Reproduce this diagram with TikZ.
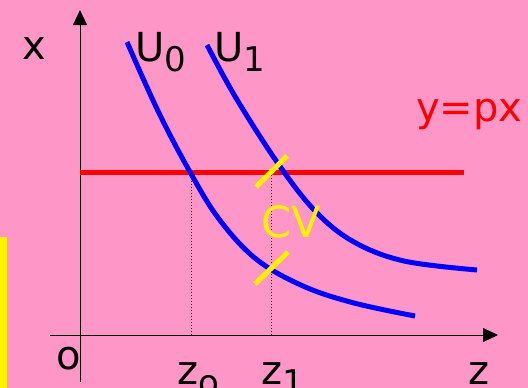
\documentclass[tikz,border=0pt]{standalone}
\usepackage{fontspec}
\setmainfont{DejaVu Sans}
\usetikzlibrary{arrows.meta}
\definecolor{bgpink}{HTML}{FF96C8}
\newcommand\lowsub[1]{\raisebox{-10pt}{\fontsize{34}{40}\selectfont #1}}
\begin{document}
\begin{tikzpicture}[x=1pt,y=-1pt,>={Triangle[length=15pt,width=14pt]},
  lbl/.style={inner sep=0pt,anchor=base west,font=\fontsize{40}{48}\selectfont},
  curve/.style={blue,line width=5pt},
  cvtick/.style={yellow,line width=5pt}]
\fill[bgpink](0,0)rectangle(528,388);
\useasboundingbox(0,0)rectangle(528,388);
\fill[yellow](0,237)rectangle(7,388);
% axes
\coordinate(o)at(80,335);
\draw[line width=1pt,->](80,382)--(80,10);
\draw[line width=1pt,->](50,335)--(498,335);
% budget line
\draw[red,line width=5pt](80,172)--(464,172);
\draw[dotted,line width=1pt](191,172)--(191,335);
\draw[dotted,line width=1pt](271,172)--(271,335);
% indifference curves
\draw[curve]plot[smooth,tension=0.6]coordinates{(127,42)(158,111)(190,172)(219,219)(256,259)(303,286)(354,303)(415,316)};
\draw[curve]plot[smooth,tension=0.6]coordinates{(207,45)(236,98)(279,165)(316,212)(354,242)(404,261)(477,270)};
\draw[cvtick](256,187)--(287,156);
\draw[cvtick](255,284)--(288,252);
% labels
\node[lbl](lx)at(22,59){x};
\node[lbl](lu0)at(135,61){U\lowsub{0}};
\node[lbl](lu1)at(214,61){U\lowsub{1}};
\node[lbl,red](lbud)at(416,121){y=px};
\node[lbl,yellow,font=\fontsize{43}{50}\selectfont](lcv)at(261,237){CV};
\node[lbl](lo)at(56,369){o};
\node[lbl](lz0)at(177,384){z\lowsub{o}};
\node[lbl](lz1)at(261,384){z\lowsub{1}};
\node[lbl](lz)at(468,384){z};
\end{tikzpicture}
\end{document}
